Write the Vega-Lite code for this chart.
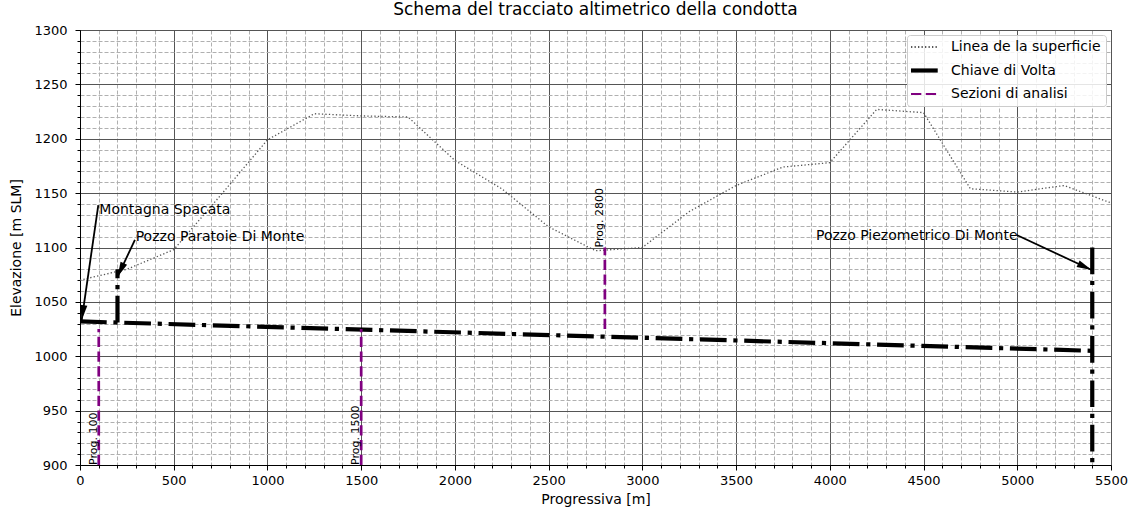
{
  "$schema": "https://vega.github.io/schema/vega-lite/v6.json",
  "width": 1031,
  "height": 435,
  "autosize": {"type": "none"},
  "padding": {"left": 80, "top": 30, "right": 30, "bottom": 47},
  "background": "white",
  "title": {"text": "Schema del tracciato altimetrico della condotta", "fontSize": 17, "font": "DejaVu Sans", "fontWeight": "normal", "color": "black", "offset": 5, "frame": "group"},
  "datasets": {
    "surf": [
      {"x": 0, "e": 1070, "serie": "Linea de la superficie"},
      {"x": 250, "e": 1080, "serie": "Linea de la superficie"},
      {"x": 500, "e": 1098, "serie": "Linea de la superficie"},
      {"x": 750, "e": 1148, "serie": "Linea de la superficie"},
      {"x": 1000, "e": 1199, "serie": "Linea de la superficie"},
      {"x": 1250, "e": 1223, "serie": "Linea de la superficie"},
      {"x": 1500, "e": 1221, "serie": "Linea de la superficie"},
      {"x": 1750, "e": 1220, "serie": "Linea de la superficie"},
      {"x": 2000, "e": 1180, "serie": "Linea de la superficie"},
      {"x": 2250, "e": 1154, "serie": "Linea de la superficie"},
      {"x": 2500, "e": 1119, "serie": "Linea de la superficie"},
      {"x": 2750, "e": 1097, "serie": "Linea de la superficie"},
      {"x": 3000, "e": 1100, "serie": "Linea de la superficie"},
      {"x": 3250, "e": 1133, "serie": "Linea de la superficie"},
      {"x": 3500, "e": 1157, "serie": "Linea de la superficie"},
      {"x": 3750, "e": 1174, "serie": "Linea de la superficie"},
      {"x": 4000, "e": 1178, "serie": "Linea de la superficie"},
      {"x": 4250, "e": 1227, "serie": "Linea de la superficie"},
      {"x": 4500, "e": 1224, "serie": "Linea de la superficie"},
      {"x": 4750, "e": 1154, "serie": "Linea de la superficie"},
      {"x": 5000, "e": 1151, "serie": "Linea de la superficie"},
      {"x": 5250, "e": 1157, "serie": "Linea de la superficie"},
      {"x": 5500, "e": 1141, "serie": "Linea de la superficie"}
    ],
    "chiave": [
      {"x": 0, "e": 1032, "seg": "a", "serie": "Chiave di Volta"},
      {"x": 5400, "e": 1005, "seg": "a", "serie": "Chiave di Volta"},
      {"x": 200, "e": 1031, "seg": "b", "serie": "Chiave di Volta"},
      {"x": 200, "e": 1080, "seg": "b", "serie": "Chiave di Volta"},
      {"x": 5400, "e": 1100, "seg": "c", "serie": "Chiave di Volta"},
      {"x": 5400, "e": 900, "seg": "c", "serie": "Chiave di Volta"}
    ],
    "sez": [
      {"x": 100, "e": 900, "k": "p100", "serie": "Sezioni di analisi"},
      {"x": 100, "e": 1025, "k": "p100", "serie": "Sezioni di analisi"},
      {"x": 1500, "e": 900, "k": "p1500", "serie": "Sezioni di analisi"},
      {"x": 1500, "e": 1025, "k": "p1500", "serie": "Sezioni di analisi"},
      {"x": 2800, "e": 1025, "k": "p2800", "serie": "Sezioni di analisi"},
      {"x": 2800, "e": 1100, "k": "p2800", "serie": "Sezioni di analisi"}
    ],
    "prog": [
      {"x": 100, "e": 900, "label": "Prog. 100"},
      {"x": 1500, "e": 900, "label": "Prog. 1500"},
      {"x": 2800, "e": 1100, "label": "Prog. 2800"}
    ],
    "ann": [
      {"x": 103, "e": 1134.5, "label": "Montagna Spacata"},
      {"x": 297, "e": 1110, "label": "Pozzo Paratoie Di Monte"},
      {"x": 3926, "e": 1110.6, "label": "Pozzo Piezometrico Di Monte"}
    ],
    "arrows": [
      {"x": 97.6, "e": 1139, "x2": 9, "e2": 1033.3, "ang": 188},
      {"x": 293, "e": 1107, "x2": 200, "e2": 1073, "ang": 205},
      {"x": 4997, "e": 1111.5, "x2": 5397, "e2": 1079.3, "ang": 115}
    ]
  },
  "resolve": {"axis": {"x": "independent", "y": "independent"}},
  "layer": [
    {
      "data": {"name": "surf"},
      "mark": {"type": "line", "strokeWidth": 1.3, "strokeCap": "butt"},
      "encoding": {
        "x": {"field": "x", "type": "quantitative", "scale": {"domain": [0, 5500], "nice": false, "zero": false},
          "axis": {"orient": "bottom", "format": "d", "values": [0, 500, 1000, 1500, 2000, 2500, 3000, 3500, 4000, 4500, 5000, 5500], "title": "Progressiva [m]", "grid": true, "gridColor": "#555555", "gridWidth": 1, "gridOpacity": 1, "tickSize": 5, "tickColor": "black", "tickWidth": 1, "labelPadding": 4, "labelFontSize": 13, "labelFont": "DejaVu Sans", "labelColor": "black", "titleFontSize": 14, "titleFont": "DejaVu Sans", "titleFontWeight": "normal", "titleColor": "black", "titlePadding": 5, "domainColor": "black", "labelFlush": false, "labelOverlap": false}},
        "y": {"field": "e", "type": "quantitative", "scale": {"domain": [900, 1300], "nice": false, "zero": false},
          "axis": {"orient": "left", "format": "d", "values": [900, 950, 1000, 1050, 1100, 1150, 1200, 1250, 1300], "title": "Elevazione [m SLM]", "grid": true, "gridColor": "#555555", "gridWidth": 1, "gridOpacity": 1, "tickSize": 5, "tickColor": "black", "tickWidth": 1, "labelPadding": 8, "labelFontSize": 13, "labelFont": "DejaVu Sans", "labelColor": "black", "titleFontSize": 14, "titleFont": "DejaVu Sans", "titleFontWeight": "normal", "titleColor": "black", "titlePadding": 10, "domainColor": "black", "labelFlush": false, "labelOverlap": false}},
        "color": {"field": "serie", "type": "nominal",
          "scale": {"domain": ["Linea de la superficie", "Chiave di Volta", "Sezioni di analisi"], "range": ["#555555", "#000000", "#800080"]},
          "legend": {"title": null, "orient": "top-right", "offset": 5, "fillColor": "rgba(255,255,255,0.85)", "strokeColor": "#cccccc", "cornerRadius": 3, "padding": 5, "labelFontSize": 14, "labelFont": "DejaVu Sans", "labelColor": "black", "symbolType": "M-1.33,0H3.33", "symbolSize": 144, "labelOffset": 25, "rowPadding": 7.5, "symbolStrokeWidth": 2.5,
            "encode": {"symbols": {"update": {"strokeWidth": {"signal": "datum.value === 'Chiave di Volta' ? 4.2 : 2.2"}}}}}},
        "strokeDash": {"field": "serie", "type": "nominal",
          "scale": {"domain": ["Linea de la superficie", "Chiave di Volta", "Sezioni di analisi"], "range": [[1.3, 2.2], [26.7, 6.7, 4.2, 6.7], [10.3, 4.45]]},
          "legend": {"title": null, "orient": "top-right", "offset": 5, "fillColor": "rgba(255,255,255,0.85)", "strokeColor": "#cccccc", "cornerRadius": 3, "padding": 5, "labelFontSize": 14, "labelFont": "DejaVu Sans", "labelColor": "black", "symbolType": "M-1.33,0H3.33", "symbolSize": 144, "labelOffset": 25, "rowPadding": 7.5, "symbolStrokeWidth": 2.5,
            "encode": {"symbols": {"update": {"strokeWidth": {"signal": "datum.value === 'Chiave di Volta' ? 4.2 : 2.2"}}}}}}
      }
    },
    {
      "data": {"name": "chiave"},
      "mark": {"type": "line", "strokeWidth": 4.2, "strokeCap": "butt"},
      "encoding": {
        "x": {"field": "x", "type": "quantitative", "scale": {"domain": [0, 5500], "nice": false, "zero": false},
          "axis": {"orient": "bottom", "values": [100, 200, 300, 400, 600, 700, 800, 900, 1100, 1200, 1300, 1400, 1600, 1700, 1800, 1900, 2100, 2200, 2300, 2400, 2600, 2700, 2800, 2900, 3100, 3200, 3300, 3400, 3600, 3700, 3800, 3900, 4100, 4200, 4300, 4400, 4600, 4700, 4800, 4900, 5100, 5200, 5300, 5400], "title": null, "labels": false, "domain": false, "grid": true, "gridColor": "#b0b0b0", "gridDash": [4, 2], "gridWidth": 1, "gridOpacity": 1, "tickSize": 3, "tickColor": "black", "tickWidth": 1}},
        "y": {"field": "e", "type": "quantitative", "scale": {"domain": [900, 1300], "nice": false, "zero": false},
          "axis": {"orient": "left", "values": [910, 920, 930, 940, 960, 970, 980, 990, 1010, 1020, 1030, 1040, 1060, 1070, 1080, 1090, 1110, 1120, 1130, 1140, 1160, 1170, 1180, 1190, 1210, 1220, 1230, 1240, 1260, 1270, 1280, 1290], "title": null, "labels": false, "domain": false, "grid": true, "gridColor": "#b0b0b0", "gridDash": [4, 2], "gridWidth": 1, "gridOpacity": 1, "tickSize": 3, "tickColor": "black", "tickWidth": 1}},
        "detail": {"field": "seg", "type": "nominal"},
        "color": {"field": "serie", "type": "nominal"},
        "strokeDash": {"field": "serie", "type": "nominal"}
      }
    },
    {
      "data": {"name": "sez"},
      "mark": {"type": "line", "strokeWidth": 2.7, "strokeCap": "butt"},
      "encoding": {
        "x": {"field": "x", "type": "quantitative", "axis": null},
        "y": {"field": "e", "type": "quantitative", "axis": null},
        "detail": {"field": "k", "type": "nominal"},
        "color": {"field": "serie", "type": "nominal"},
        "strokeDash": {"field": "serie", "type": "nominal"}
      }
    },
    {
      "data": {"name": "arrows"},
      "mark": {"type": "rule", "color": "black", "strokeWidth": 1.8},
      "encoding": {
        "x": {"field": "x", "type": "quantitative", "axis": null},
        "y": {"field": "e", "type": "quantitative", "axis": null},
        "x2": {"field": "x2"},
        "y2": {"field": "e2"}
      }
    },
    {
      "data": {"name": "arrows"},
      "mark": {"type": "point", "shape": "M0,0L0.9,3.75L-0.9,3.75Z", "filled": true, "color": "black", "opacity": 1, "size": 64, "strokeWidth": 0},
      "encoding": {
        "x": {"field": "x2", "type": "quantitative", "axis": null},
        "y": {"field": "e2", "type": "quantitative", "axis": null},
        "angle": {"field": "ang", "type": "quantitative", "scale": null}
      }
    },
    {
      "data": {"name": "ann"},
      "mark": {"type": "text", "align": "left", "baseline": "middle", "fontSize": 14, "font": "DejaVu Sans", "color": "black"},
      "encoding": {
        "x": {"field": "x", "type": "quantitative", "axis": null},
        "y": {"field": "e", "type": "quantitative", "axis": null},
        "text": {"field": "label"}
      }
    },
    {
      "data": {"name": "prog"},
      "mark": {"type": "text", "align": "left", "baseline": "bottom", "angle": 270, "fontSize": 11, "font": "DejaVu Sans", "color": "black"},
      "encoding": {
        "x": {"field": "x", "type": "quantitative", "axis": null},
        "y": {"field": "e", "type": "quantitative", "axis": null},
        "text": {"field": "label"}
      }
    }
  ],
  "config": {
    "font": "DejaVu Sans",
    "view": {"stroke": "black", "strokeWidth": 1},
    "axis": {"domainColor": "black", "domainWidth": 1}
  }
}
